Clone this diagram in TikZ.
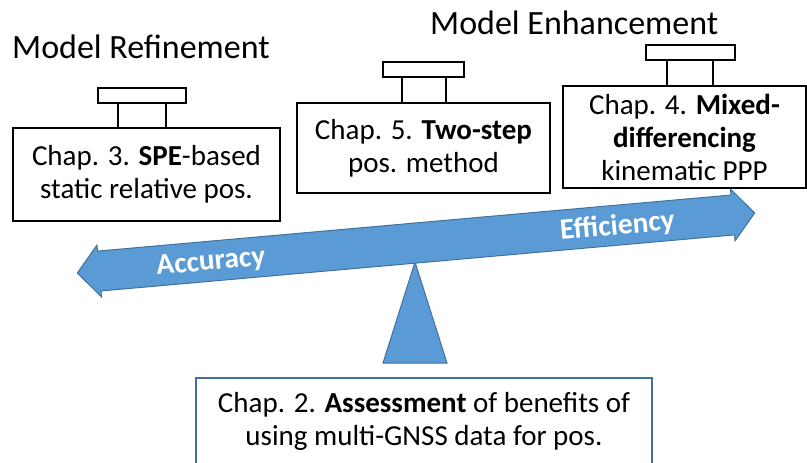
\documentclass[tikz,border=0pt]{standalone}
\usepackage{fontspec}
\setmainfont{Carlito}
\definecolor{barfill}{HTML}{5B9BD5}
\definecolor{barline}{HTML}{41719C}
\tikzset{
  chapbox/.style={draw=black, line width=1.4pt, fill=white, align=center,
    inner sep=0pt, font=\fontsize{29}{33}\selectfont},
  handle/.style={draw=black, line width=1.4pt, fill=white},
  heading/.style={inner sep=0pt, font=\fontsize{34}{40}\selectfont},
  barlabel/.style={text=white, inner sep=0pt, font=\fontsize{29.5}{32}\selectfont\bfseries},
  balance/.style={fill=barfill, draw=barline, line width=1pt, line join=miter}
}
\begin{document}
\begin{tikzpicture}[x=1pt, y=-1pt]
\useasboundingbox (0,0) rectangle (807,463);
\clip (0,0) rectangle (807,463);
\fill[white] (0,0) rectangle (807,463);

% headings
\node[heading, anchor=west] (refine) at (12,47) {Model Refinement};
\node[heading, anchor=west] (enhance) at (430,23) {Model Enhancement};

% pivot under the beam
\draw[balance] (415,262) -- (447,363) -- (383,363) -- cycle;

% beam: double-headed arrow
\begin{scope}[shift={(416,243)}, rotate=5.06]
  \draw[balance] (-340,0) -- (-318,-26) -- (-318,-20) -- (318,-20) -- (318,-26)
    -- (340,0) -- (318,26) -- (318,20) -- (-318,20) -- (-318,26) -- cycle;
  \node[barlabel, transform shape] (acc) at (-206,1.5) {Accuracy};
  \node[barlabel, transform shape] (eff) at (202,1.5) {Efficiency};
\end{scope}

% weights with handles
\draw[handle] (118,103) -- (118,128) (166,103) -- (166,128);
\draw[handle] (98,88) rectangle (186,103);
\node[chapbox, minimum width=267pt, minimum height=93pt] (c3) at (146.5,174.5)
  {Chap. 3. \textbf{SPE}-based\\static relative pos.};

\draw[handle] (402,77) -- (402,103) (446,77) -- (446,103);
\draw[handle] (383,62) rectangle (464,77);
\node[chapbox, minimum width=253pt, minimum height=90pt] (c5) at (423.5,148)
  {Chap. 5. \textbf{Two-step}\\pos. method};

\draw[handle] (667,60) -- (667,86) (713,60) -- (713,86);
\draw[handle] (646,45) rectangle (735,60);
\node[chapbox, minimum width=243pt, minimum height=102pt] (c4) at (684.5,137)
  {Chap. 4. \textbf{Mixed-}\\\textbf{differencing}\\kinematic PPP};

% foundation box
\draw[draw=barline, line width=1.4pt, fill=white] (196,378) rectangle (652,490);
\node[align=center, inner sep=0pt, font=\fontsize{29}{33}\selectfont] (c2) at (424,421)
  {Chap. 2. \textbf{Assessment} of benefits of\\using multi-GNSS data for pos.};
\end{tikzpicture}
\end{document}
